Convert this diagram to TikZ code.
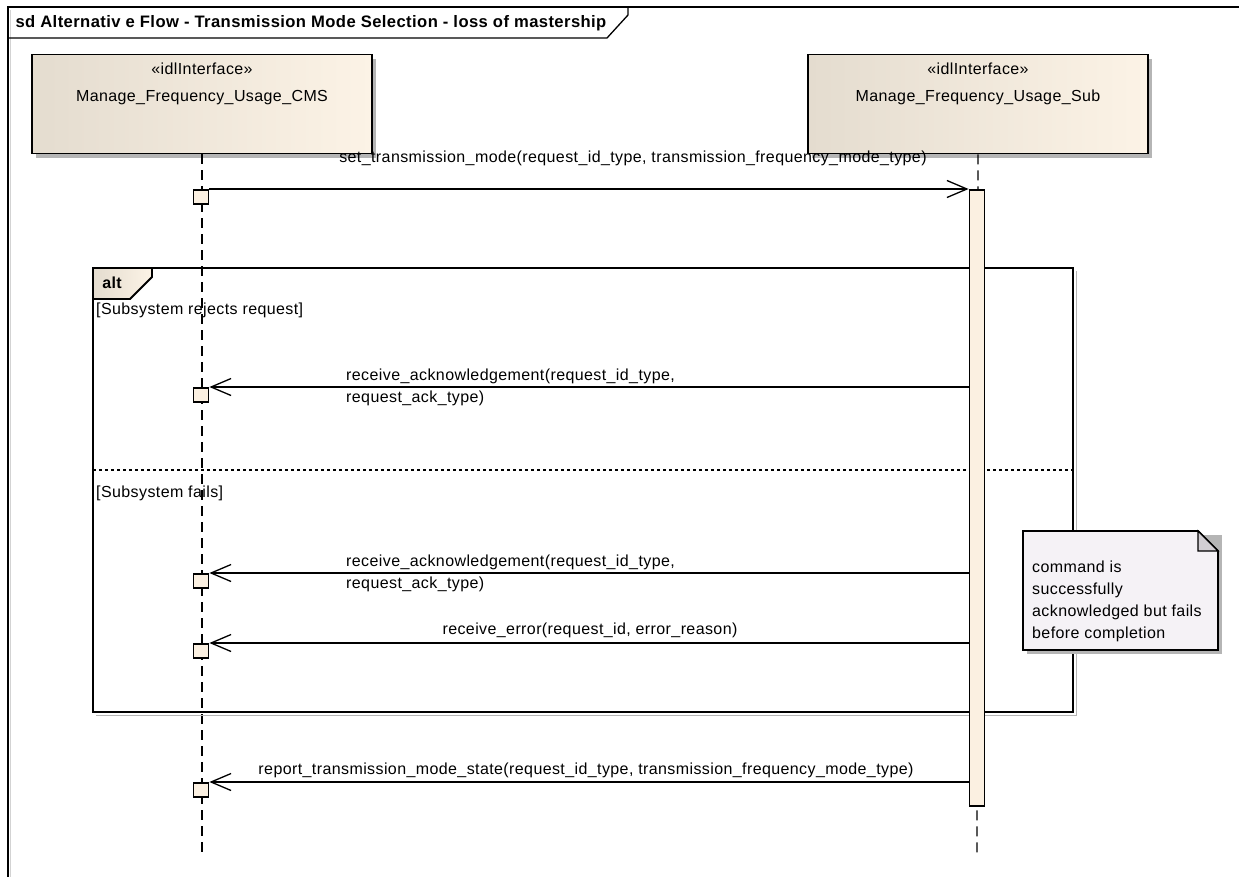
\documentclass[tikz,border=0pt]{standalone}
\usepackage{fontspec}
\setmainfont{Liberation Sans}[LetterSpace=2.5]
\usepackage{xcolor}
\usetikzlibrary{arrows.meta,positioning,shadows}

\definecolor{headL}{HTML}{E4DCCF}
\definecolor{headR}{HTML}{FCF3E6}
\definecolor{barfill}{HTML}{FBF0E1}
\definecolor{notefill}{HTML}{F5F2F6}
\definecolor{foldfill}{HTML}{D2CED3}
\definecolor{shadowgray}{HTML}{B5B5B5}

\begin{document}
\begin{tikzpicture}[x=1pt, y=-1pt,
    font=\fontsize{16}{19}\selectfont,
    head/.style={draw, line width=1.8pt, minimum width=340pt, minimum height=99pt,
        left color=headL, right color=headR,
        drop shadow={shadow xshift=4pt, shadow yshift=-4pt, fill=shadowgray, opacity=1}},
    lifeline/.style={line width=1.3pt, dash pattern=on 10pt off 6pt},
    exec/.style={draw, line width=1.8pt, fill=barfill, minimum width=15pt, minimum height=14pt, inner sep=0pt},
    msg/.style={line width=1.3pt, -{Straight Barb[length=20pt, width=17pt, line width=1.3pt]}},
    lbl/.style={inner sep=1pt},
    guard/.style={anchor=west, inner sep=1pt}]

    \useasboundingbox (0,0) rectangle (1239,876);
    \fill[white] (0,0) rectangle (1239,876);

    % Diagram frame and title tab
    \draw[shadowgray!60, line width=1pt] (10.5,880) -- (10.5,9.5);
    \draw[line width=1.3pt] (8,880) -- (8,7) -- (1245,7);
    \draw[line width=1.3pt] (8,38) -- (607,38) -- (628,15) -- (628,7);
    \node[anchor=west, font=\fontsize{16.6}{19}\selectfont\bfseries] (title) at (12,23)
        {sd Alternativ e Flow - Transmission Mode Selection - loss of mastership};

    % Lifeline heads
    \node[head] (cms) at (202,104) {};
    \node[head] (sub) at (978,104) {};
    \node[below=6pt of cms.north, align=center] (cmslbl) {«idlInterface»\\[8pt]Manage\_Frequency\_Usage\_CMS};
    \node[below=6pt of sub.north, align=center] (sublbl) {«idlInterface»\\[8pt]Manage\_Frequency\_Usage\_Sub};

    % Lifelines
    \coordinate (cmsend) at (202,856);
    \coordinate (subend) at (977,856);
    \draw[lifeline] (cms.south) -- (cmsend);
    \draw[lifeline] (sub.south) -- (subend);

    % alt fragment
    \draw[line width=1.8pt] (93,268) rectangle (1073,712);
    \draw[shadowgray, line width=1pt] (1076,271) -- (1076,715) -- (96,715);
    \draw[line width=1.8pt, left color=headL, right color=headR]
        (93,268) -- (152,268) -- (152,277) -- (130,299) -- (93,299) -- cycle;
    \node[font=\fontsize{16}{19}\selectfont\bfseries] (alt) at (112,283) {alt};
    \draw[line width=1.2pt, dash pattern=on 3pt off 3pt] (93,470) -- (1073,470);
    \node[guard] (g1) at (95,310) {[Subsystem rejects request]};
    \node[guard] (g2) at (95,493) {[Subsystem fails]};

    % Activation bar and execution boxes
    \node[draw, line width=1.8pt, fill=barfill, minimum width=15pt, minimum height=616pt,
        inner sep=0pt, anchor=north] (bar) at (977,189) {};
    \node[exec, anchor=north] (set) at (201,189) {};
    \node[exec, anchor=north] (ack1) at (201,387) {};
    \node[exec, anchor=north] (ack2) at (201,573) {};
    \node[exec, anchor=north] (err) at (201,643) {};
    \node[exec, anchor=north] (rep) at (201,782) {};

    % Messages
    \draw[msg] (set.north east) -- (bar.north west);
    \draw[msg] (bar.west |- ack1.north) -- (ack1.north east);
    \draw[msg] (bar.west |- ack2.north) -- (ack2.north east);
    \draw[msg] (bar.west |- err.north) -- (err.north east);
    \draw[msg] (bar.west |- rep.north) -- (rep.north east);

    % Message labels
    \node[lbl] (setlbl) at (633,158) {set\_transmission\_mode(request\_id\_type, transmission\_frequency\_mode\_type)};
    \node[lbl, anchor=west] (ack1a) at (345,376) {receive\_acknowledgement(request\_id\_type,};
    \node[lbl, anchor=west, fill=white] (ack1b) at (345,398) {request\_ack\_type)};
    \node[lbl, anchor=west] (ack2a) at (345,562) {receive\_acknowledgement(request\_id\_type,};
    \node[lbl, anchor=west, fill=white] (ack2b) at (345,584) {request\_ack\_type)};
    \node[lbl] (errlbl) at (590,630) {receive\_error(request\_id, error\_reason)};
    \node[lbl] (replbl) at (586,770) {report\_transmission\_mode\_state(request\_id\_type, transmission\_frequency\_mode\_type)};

    % Note
    \fill[shadowgray] (1027,535) -- (1222,535) -- (1222,654) -- (1027,654) -- cycle;
    \draw[line width=1.8pt, fill=notefill] (1023,531) -- (1198,531) -- (1218,551) -- (1218,650) -- (1023,650) -- cycle;
    \draw[line width=1.2pt, fill=foldfill] (1198,531) -- (1198,551) -- (1218,551) -- cycle;
    \node[anchor=north west, align=left, inner sep=0pt] (note) at (1032,561)
        {command is\\[3pt]successfully\\[3pt]acknowledged but fails\\[3pt]before completion};
\end{tikzpicture}
\end{document}
